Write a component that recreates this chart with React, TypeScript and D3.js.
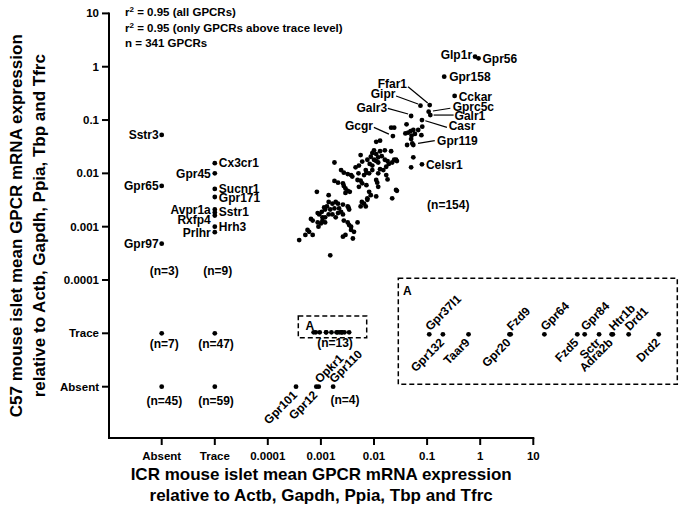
import React from 'react';
import * as d3 from 'd3';

// ---------- DATA ----------
const TICK_LABELS = ['Absent', 'Trace', '0.0001', '0.001', '0.01', '0.1', '1', '10'];
const CATEGORIES = ['Absent', 'Trace'];

// Unlabelled GPCRs detected in both strains (ICR, C57)
const cloudICR = [
  0.021, 0.024, 0.041, 0.039, 0.044, 0.049, 0.055, 0.059, 0.051, 0.081, 0.078, 0.068, 0.042, 0.055, 0.050,
  0.011, 0.013, 0.016, 0.021, 0.0056, 0.0093, 0.010, 0.011, 0.012, 0.013, 0.014,
  0.010, 0.011, 0.012, 0.0075, 0.0083, 0.0093, 0.016, 0.018, 0.019, 0.024, 0.026, 0.027, 0.022, 0.055, 0.050,
  0.0018, 0.0045, 0.0052, 0.0051, 0.0070, 0.0072, 0.0081, 0.0065, 0.0093, 0.012, 0.013,
  0.015, 0.0024, 0.0027, 0.0032, 0.0037, 0.0018, 0.0021, 0.0026, 0.0049, 0.0056, 0.0060, 0.0072, 0.0052,
  0.011, 0.0115, 0.012, 0.017, 0.018, 0.0029, 0.0032, 0.0035, 0.0029, 0.0027, 0.0081, 0.0087, 0.0075,
  0.0059, 0.0065, 0.0075, 0.0056, 0.0070, 0.011, 0.022, 0.026, 0.027, 0.00084, 0.0014, 0.0014, 0.00165,
  0.0019, 0.0021, 0.0013, 0.0015, 0.0018, 0.0012, 0.00104, 0.0022, 0.0026, 0.0032, 0.0034, 0.0033,
  0.00087, 0.00093, 0.00107, 0.0012, 0.0014, 0.00165, 0.0019, 0.0021, 0.0026, 0.00065, 0.0007, 0.00087,
  0.0010, 0.0009, 0.00107, 0.0012, 0.0027, 0.0032, 0.0034, 0.0037, 0.0049, 0.00056, 0.0007, 0.0006, 0.00051,
  0.0037, 0.0042, 0.0040, 0.0026, 0.0029, 0.00039, 0.0015, 0.0087, 0.0060, 0.0039, 0.0024, 0.00115, 0.017,
];
const cloudC57 = [
  0.072, 0.072, 0.083, 0.056, 0.058, 0.062, 0.065, 0.055, 0.051, 0.075, 0.052, 0.065, 0.034, 0.034, 0.044,
  0.039, 0.041, 0.027, 0.026, 0.022, 0.024, 0.027, 0.023, 0.020, 0.026, 0.021,
  0.018, 0.017, 0.016, 0.018, 0.015, 0.014, 0.018, 0.017, 0.015, 0.018, 0.018, 0.017, 0.016, 0.020, 0.013,
  0.016, 0.013, 0.014, 0.010, 0.0115, 0.0103, 0.010, 0.0093, 0.0115, 0.010, 0.012,
  0.0115, 0.0115, 0.0103, 0.0097, 0.0093, 0.0072, 0.0067, 0.0065, 0.0075, 0.0073, 0.0065, 0.0060, 0.0056,
  0.0075, 0.0067, 0.0056, 0.0093, 0.0077, 0.0052, 0.0047, 0.0045, 0.0043, 0.0058, 0.0045, 0.0039, 0.0034,
  0.0029, 0.0027, 0.0032, 0.0024, 0.0024, 0.0037, 0.0034, 0.0049, 0.0047, 0.0045, 0.0039, 0.0029, 0.0027,
  0.0029, 0.0027, 0.0024, 0.0021, 0.0022, 0.0021, 0.0019, 0.0022, 0.0026, 0.0024, 0.0021, 0.0023,
  0.0018, 0.0017, 0.0015, 0.0015, 0.0017, 0.0017, 0.0015, 0.0018, 0.0017, 0.0014, 0.0013, 0.0012,
  0.00115, 0.0010, 0.0013, 0.0012, 0.0013, 0.0012, 0.00107, 0.0010, 0.0012, 0.00087, 0.0007, 0.0008, 0.0007,
  0.00087, 0.0008, 0.0006, 0.00065, 0.0007, 0.00056, 0.00029, 0.0205, 0.0166, 0.0087, 0.0019, 0.0023, 0.0133,
];

// Labelled GPCRs detected in both strains
const namedNames = ['Glp1r', 'Gpr56', 'Gpr158', 'Cckar', 'Ffar1', 'Gipr', 'Gprc5c', 'Galr1', 'Galr3', 'Casr', 'Gcgr', 'Gpr119', 'Celsr1'];
const namedICR = [0.80, 0.93, 0.21, 0.33, 0.112, 0.075, 0.107, 0.115, 0.050, 0.080, 0.0227, 0.0526, 0.080];
const namedC57 = [1.54, 1.44, 0.65, 0.283, 0.191, 0.186, 0.1435, 0.124, 0.119, 0.100, 0.050, 0.0363, 0.0148];

// ICR absent, C57 numeric
const absentColNames = ['Sstr3', 'Gpr65', 'Gpr97'];
const absentColC57 = [0.0525, 0.0058, 0.00048];
// ICR trace, C57 numeric
const traceColNames = ['Cx3cr1', 'Gpr45', 'Sucnr1', 'Gpr171', 'Avpr1a', 'Sstr1', 'Rxfp4', 'Hrh3', 'Prlhr'];
const traceColC57 = [0.0155, 0.010, 0.0051, 0.0036, 0.0021, 0.00185, 0.00162, 0.0010, 0.00079];
// C57 absent, ICR numeric
const absentRowNames = ['Gpr101', 'Gpr12', 'Opkr1', 'Gpr110'];
const absentRowICR = [0.00034, 0.00082, 0.00091, 0.0017];
// C57 trace, ICR numeric (box A)
const traceRowNames = ['Gpr37l1', 'Gpr132', 'Taar9', 'Gpr20', 'Fzd9', 'Gpr64', 'Fzd5', 'Gpr84', 'Sctr', 'Htr1b', 'Adra2b', 'Drd1', 'Drd2'];
const traceRowICR = [0.00073, 0.00080, 0.00095, 0.00125, 0.00126, 0.00158, 0.00197, 0.00207, 0.00228, 0.00250, 0.00248, 0.00278, 0.00340];
// Both categorical
const catPairsICR = ['Absent', 'Trace', 'Absent', 'Trace'];
const catPairsC57 = ['Trace', 'Trace', 'Absent', 'Absent'];
const groupCounts = ['(n=3)', '(n=9)', '(n=7)', '(n=47)', '(n=45)', '(n=59)', '(n=154)', '(n=13)', '(n=4)'];
const statLines = ['= 0.95 (all GPCRs)', '= 0.95 (only GPCRs above trace level)', 'n = 341 GPCRs'];

// ---------- LAYOUT ----------
const W = 685, H = 510;
const FONT = "'Liberation Sans', Arial, Helvetica, sans-serif";
const AX_X = 109, AX_Y = 438;

const xLog = d3.scaleLog().domain([1e-4, 10]).range([267.8, 533.3]);
const xCat = d3.scalePoint().domain(CATEGORIES).range([161.7, 214.8]);
const yLog = d3.scaleLog().domain([1e-4, 10]).range([280, 13.4]);
const yCat = d3.scalePoint().domain(CATEGORIES).range([386.7, 333.3]);
const X = (v: number | string) => (typeof v === 'string' ? (xCat(v) as number) : xLog(v));
const Y = (v: number | string) => (typeof v === 'string' ? (yCat(v) as number) : yLog(v));
const insetX = d3.scaleLog().domain([0.0007, 0.0035]).range([423, 663]);
const INSET_Y = 334.3;

type Lab = { dx: number; dy: number; anchor: string; line?: number[] };
const labelLayout: Record<string, Lab> = {
  Glp1r: { dx: -3, dy: -1.7, anchor: 'end' },
  Gpr56: { dx: 4, dy: 1, anchor: 'start' },
  Gpr158: { dx: 5, dy: 0.6, anchor: 'start' },
  Cckar: { dx: 4, dy: 0.7, anchor: 'start' },
  Ffar1: { dx: -22.7, dy: -21.7, anchor: 'end', line: [-21.7, -18.3, -2, -2] },
  Gipr: { dx: -25, dy: -11.4, anchor: 'end', line: [-24.4, -9.7, -2.4, -1.7] },
  Galr3: { dx: -24, dy: -8.7, anchor: 'end', line: [-23.3, -7.7, -3, -2] },
  Gcgr: { dx: -20, dy: -10, anchor: 'end', line: [-19, -8.7, -4, -2] },
  Gprc5c: { dx: 24, dy: -5, anchor: 'start', line: [4.3, -0.7, 21.7, -3.4] },
  Galr1: { dx: 24.3, dy: 1, anchor: 'start', line: [3.3, 0, 23.3, 0] },
  Casr: { dx: 26.7, dy: 6, anchor: 'start', line: [3.4, 0.7, 25, 7.3] },
  Gpr119: { dx: 24.8, dy: -2.8, anchor: 'start', line: [5.8, -0.2, 22.5, -2.8] },
  Celsr1: { dx: 4, dy: 0.7, anchor: 'start' },
  Sstr3: { dx: -3, dy: 0, anchor: 'end' },
  Gpr65: { dx: -3, dy: 0, anchor: 'end' },
  Gpr97: { dx: -3, dy: 0, anchor: 'end' },
  Cx3cr1: { dx: 4, dy: 0, anchor: 'start' },
  Gpr45: { dx: -4, dy: 0, anchor: 'end' },
  Sucnr1: { dx: 4, dy: -0.5, anchor: 'start' },
  Gpr171: { dx: 4, dy: 0.5, anchor: 'start' },
  Avpr1a: { dx: -4, dy: 0, anchor: 'end' },
  Sstr1: { dx: 4, dy: -0.8, anchor: 'start' },
  Rxfp4: { dx: -4, dy: 4.3, anchor: 'end' },
  Hrh3: { dx: 4, dy: 0, anchor: 'start' },
  Prlhr: { dx: -4, dy: 0.5, anchor: 'end' },
};
const ABOVE = new Set(['Opkr1', 'Gpr110', 'Gpr37l1', 'Fzd9', 'Gpr64', 'Gpr84', 'Htr1b', 'Drd1']);

const countPos: [number, number][] = [
  [164.3, 270.7], [217.7, 270.7], [164.3, 343.3], [216, 343.3], [164.3, 400.7], [216, 400.7],
  [448.3, 204.3], [335, 342.7], [345, 400],
];

const R = 2.4;

function RotLabel({ x, y, name }: { x: number; y: number; name: string }) {
  const above = ABOVE.has(name);
  const tx = above ? x + 1 : x + 2;
  const ty = above ? y - 3 : y + 9;
  return (
    <text
      transform={`translate(${tx},${ty}) rotate(-45)`}
      textAnchor={above ? 'start' : 'end'}
      fontSize={12}
      fontWeight="bold"
    >
      {name}
    </text>
  );
}

function PtLabel({ x, y, name }: { x: number; y: number; name: string }) {
  const L = labelLayout[name];
  return (
    <g>
      {L.line && (
        <line x1={x + L.line[0]} y1={y + L.line[1]} x2={x + L.line[2]} y2={y + L.line[3]} stroke="#000" strokeWidth={1.2} />
      )}
      <text x={x + L.dx} y={y + L.dy} dy="0.35em" textAnchor={L.anchor as any} fontSize={12} fontWeight="bold">
        {name}
      </text>
    </g>
  );
}

export default function App() {
  React.useEffect(() => {
    document.body.style.margin = '0';
  }, []);
  const ticks = TICK_LABELS.map((t, i) => (i < 2 ? t : +t));
  return (
    <svg width={W} height={H} style={{ display: 'block', background: '#fff' }} fontFamily={FONT}>
      {/* axes */}
      <g stroke="#000" strokeWidth={2}>
        <line x1={AX_X} y1={Y(10) - 1} x2={AX_X} y2={AX_Y} />
        <line x1={AX_X - 1} y1={AX_Y} x2={X(10) + 1} y2={AX_Y} />
        {ticks.map((t, i) => (
          <line key={'yt' + i} x1={AX_X - 7} x2={AX_X} y1={Y(t)} y2={Y(t)} />
        ))}
        {ticks.map((t, i) => (
          <line key={'xt' + i} x1={X(t)} x2={X(t)} y1={AX_Y} y2={AX_Y + 7} />
        ))}
      </g>
      <g fontSize={11.5} fontWeight="bold">
        {ticks.map((t, i) => (
          <text key={'yl' + i} x={AX_X - 10} y={Y(t)} dy="0.35em" textAnchor="end">
            {TICK_LABELS[i]}
          </text>
        ))}
        {ticks.map((t, i) => (
          <text key={'xl' + i} x={X(t)} y={AX_Y + 18} dy="0.35em" textAnchor="middle">
            {TICK_LABELS[i]}
          </text>
        ))}
      </g>
      {/* axis titles */}
      <g fontSize={17} fontWeight="bold" textAnchor="middle">
        <text x={(AX_X + X(10)) / 2} y={480}>ICR mouse islet mean GPCR mRNA expression</text>
        <text x={(AX_X + X(10)) / 2} y={501}>relative to Actb, Gapdh, Ppia, Tbp and Tfrc</text>
        <text transform={`translate(22,${(Y(10) + AX_Y) / 2}) rotate(-90)`}>C57 mouse islet mean GPCR mRNA expression</text>
        <text transform={`translate(45,${(Y(10) + AX_Y) / 2}) rotate(-90)`}>relative to Actb, Gapdh, Ppia, Tbp and Tfrc</text>
      </g>
      {/* stats */}
      <g fontSize={11.5} fontWeight="bold">
        <text x={125} y={16}>
          r<tspan fontSize={8} dy={-4}>2</tspan>
          <tspan dy={4}> {statLines[0]}</tspan>
        </text>
        <text x={125} y={32}>
          r<tspan fontSize={8} dy={-4}>2</tspan>
          <tspan dy={4}> {statLines[1]}</tspan>
        </text>
        <text x={125} y={47}>{statLines[2]}</text>
      </g>
      {/* points */}
      <g fill="#000">
        {cloudICR.map((v, i) => (
          <circle key={'c' + i} cx={X(v)} cy={Y(cloudC57[i])} r={R} />
        ))}
        {namedICR.map((v, i) => (
          <circle key={'n' + i} cx={X(v)} cy={Y(namedC57[i])} r={R} />
        ))}
        {absentColC57.map((v, i) => (
          <circle key={'ac' + i} cx={X('Absent')} cy={Y(v)} r={R} />
        ))}
        {traceColC57.map((v, i) => (
          <circle key={'tc' + i} cx={X('Trace')} cy={Y(v)} r={R} />
        ))}
        {absentRowICR.map((v, i) => (
          <circle key={'ar' + i} cx={X(v)} cy={Y('Absent')} r={R} />
        ))}
        {traceRowICR.map((v, i) => (
          <circle key={'tr' + i} cx={X(v)} cy={Y('Trace') - 1} r={R} />
        ))}
        {catPairsICR.map((v, i) => (
          <circle key={'cp' + i} cx={X(v)} cy={Y(catPairsC57[i])} r={R} />
        ))}
        {traceRowICR.map((v, i) => (
          <circle key={'in' + i} cx={insetX(v)} cy={INSET_Y} r={R} />
        ))}
      </g>
      {/* labels */}
      {namedNames.map((n, i) => (
        <PtLabel key={n} x={X(namedICR[i])} y={Y(namedC57[i])} name={n} />
      ))}
      {absentColNames.map((n, i) => (
        <PtLabel key={n} x={X('Absent')} y={Y(absentColC57[i])} name={n} />
      ))}
      {traceColNames.map((n, i) => (
        <PtLabel key={n} x={X('Trace')} y={Y(traceColC57[i])} name={n} />
      ))}
      {absentRowNames.map((n, i) => (
        <RotLabel key={n} x={X(absentRowICR[i])} y={Y('Absent')} name={n} />
      ))}
      {traceRowNames.map((n, i) => (
        <RotLabel key={n} x={insetX(traceRowICR[i])} y={INSET_Y} name={n} />
      ))}
      {/* counts */}
      <g fontSize={12} fontWeight="bold" textAnchor="middle">
        {groupCounts.map((c, i) => (
          <text key={c} x={countPos[i][0]} y={countPos[i][1]} dy="0.35em">
            {c}
          </text>
        ))}
      </g>
      {/* boxes A */}
      <g fill="none" stroke="#000" strokeWidth={1.5} strokeDasharray="5,3">
        <rect x={298.3} y={316} width={68.4} height={21.7} />
        <rect x={398.3} y={278.3} width={279} height={106} />
      </g>
      <g fontSize={12} fontWeight="bold">
        <text x={305.5} y={330}>A</text>
        <text x={403} y={295}>A</text>
      </g>
    </svg>
  );
}
